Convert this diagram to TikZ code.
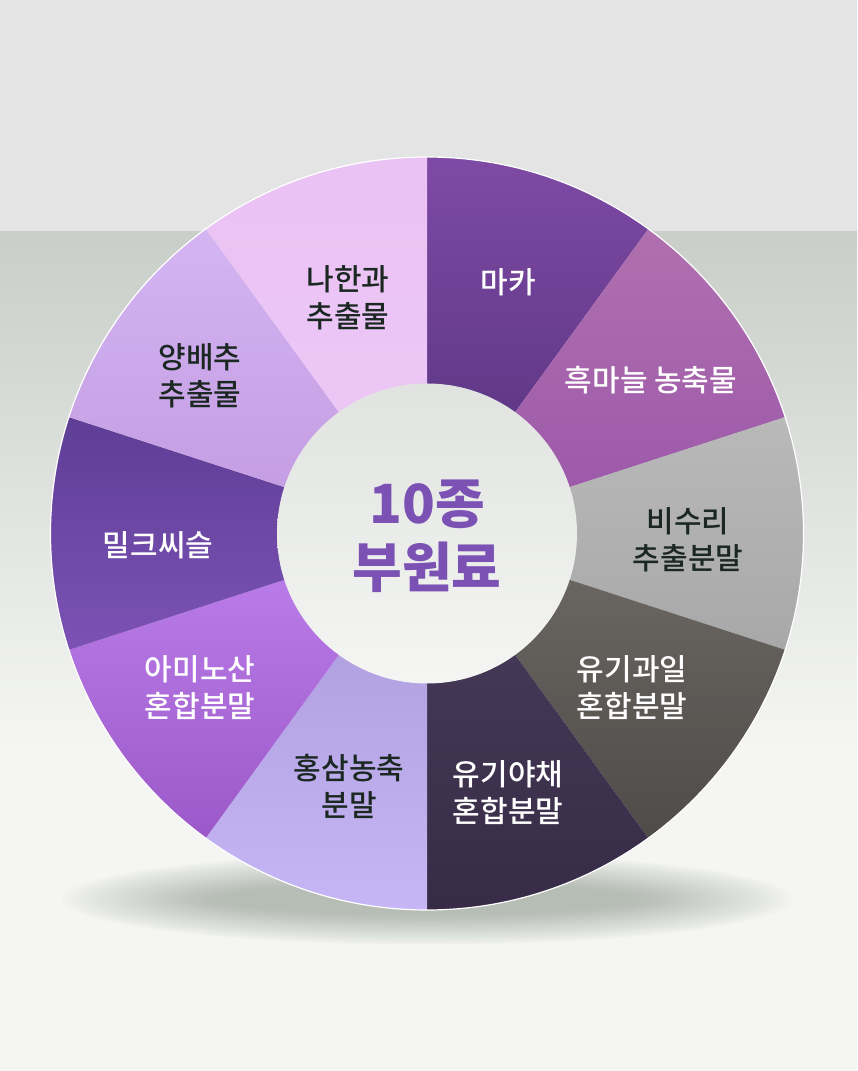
\documentclass[tikz,border=0pt]{standalone}
\usepackage{fontspec}
\setmainfont{Noto Sans CJK KR}
\newfontfamily\labfont{Noto Sans CJK KR}[UprightFont={* Medium}]
\begin{document}
\begin{tikzpicture}[x=1pt,y=1pt,
  lab/.style={align=center, font=\labfont\fontsize{30}{37}\selectfont, inner sep=0pt},
  darklab/.style={lab, text=labdark},
  lightlab/.style={lab, text=white},
  centerlab/.style={align=center, font=\fontsize{54}{64}\selectfont\bfseries, text=centerpurple, inner sep=0pt}]
\definecolor{bgtop}{HTML}{E3E4E3}
\definecolor{bgband}{HTML}{C9CEC9}
\definecolor{bgbottom}{HTML}{F5F6F4}
\definecolor{shadowc}{HTML}{8E998E}
\definecolor{labdark}{HTML}{1B2822}
\definecolor{centerpurple}{HTML}{7B52B4}
\definecolor{innertop}{HTML}{E0E3E0}
\definecolor{innerbot}{HTML}{F5F6F4}
\definecolor{s1t}{HTML}{7E4AA5}\definecolor{s1b}{HTML}{53307A}
\definecolor{s2t}{HTML}{B070AE}\definecolor{s2b}{HTML}{9A56AA}
\definecolor{s3t}{HTML}{B9B9B9}\definecolor{s3b}{HTML}{A8A8A8}
\definecolor{s4t}{HTML}{6E6A66}\definecolor{s4b}{HTML}{4E4B48}
\definecolor{s5t}{HTML}{4B3E5D}\definecolor{s5b}{HTML}{372B47}
\definecolor{s6t}{HTML}{A898D8}\definecolor{s6b}{HTML}{C6B6F6}
\definecolor{s7t}{HTML}{BE82EE}\definecolor{s7b}{HTML}{9C58C8}
\definecolor{s8t}{HTML}{5E3E96}\definecolor{s8b}{HTML}{7C52B4}
\definecolor{s9t}{HTML}{D4B5F2}\definecolor{s9b}{HTML}{C299E0}
\definecolor{s10t}{HTML}{EAC2F4}\definecolor{s10b}{HTML}{EDC9F6}
\useasboundingbox (0,0) rectangle (857,1071);
% background
\fill[bgbottom] (0,0) rectangle (857,1071);
\shade[top color=bgband, bottom color=bgbottom] (0,320) rectangle (857,840);
\fill[bgtop] (0,840) rectangle (857,1071);
% soft shadow under the disc
\foreach \i in {0,...,29}{
  \fill[shadowc, opacity=0.022] (427,172) ellipse ({365-5.5*\i} and {46-1.1*\i});
}
\coordinate (c) at (427,537.5);
\def\R{376.5}
% segments
\foreach \n/\a in {1/90,2/54,3/18,4/-18,5/-54,6/-90,7/-126,8/-162,9/-198,10/-234}{
  \pgfmathsetmacro{\e}{\a-36}
  \shade[top color=s\n t, bottom color=s\n b] (c) -- ++(\a:\R) arc[start angle=\a, end angle=\e, radius=\R] -- cycle;
}
% rim
\draw[white, line width=1.2pt] (c) circle[radius=\R];
% inner disc
\shade[top color=innertop, bottom color=innerbot] (c) circle[radius=150];
% labels
\node[lightlab] (maka) at (508,789) {마카};
\node[lightlab] (heuk) at (651,691) {흑마늘 농축물};
\node[darklab] (bisu) at (688,531) {비수리\\추출분말};
\node[lightlab] (gwail) at (632,383) {유기과일\\혼합분말};
\node[lightlab] (yachae) at (508,278) {유기야채\\혼합분말};
\node[darklab] (hongsam) at (349,285) {홍삼농축\\분말};
\node[lightlab] (amino) at (200,383) {아미노산\\혼합분말};
\node[lightlab] (milk) at (158,526) {밀크씨슬};
\node[darklab] (yang) at (200,695) {양배추\\추출물};
\node[darklab] (nahan) at (348,773) {나한과\\추출물};
\node[centerlab] (center) at (427,535) {10종\\부원료};
\end{tikzpicture}
\end{document}
